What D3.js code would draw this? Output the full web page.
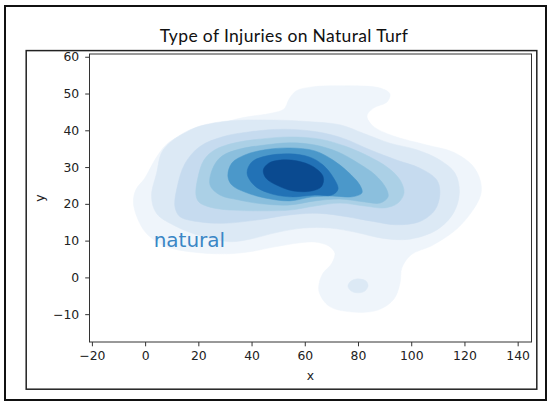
<!DOCTYPE html>
<html lang="en">
<head>
<meta charset="utf-8" />
<title>Type of Injuries on Natural Turf</title>
<style>
  body { margin: 0; padding: 0; background: #fff; }
  svg { display: block; }
  .tick text { font-family: 'DejaVu Sans', sans-serif; font-size: 12.4px; fill: #222; }
  .tick line { stroke: #333; stroke-width: 1; }
</style>
<script src="https://d3js.org/d3.v7.min.js"></script>
</head>
<body>
<div id="chart"></div>
<script>
// density contour outlines, [x, y] in data units, outermost first
const level1 = [[-4.4,20.2],[-3.5,23.8],[-0.1,27.0],[2.6,30.6],[4.8,33.3],[8.2,36.3],[13.8,38.7],[23.6,40.9],
  [36.4,43.4],[47.7,44.7],[52.2,45.8],[54.1,48.5],[56.7,50.7],[62.7,51.8],[73.2,52.1],[88.3,51.5],[92.0,49.9],
  [90.9,47.7],[86.0,46.1],[83.4,43.9],[85.6,41.2],[93.1,38.5],[105.9,36.0],[115.7,34.1],[122.8,30.6],[125.9,26.5],
  [126.2,22.7],[123.2,18.3],[117.2,13.2],[108.2,8.8],[99.9,6.1],[96.5,2.6],[95.8,-1.5],[93.5,-5.9],[87.5,-8.9],
  [77.7,-9.4],[69.1,-7.8],[65.3,-3.7],[66.5,0.7],[70.2,3.9],[71.3,6.6],[69.1,8.5],[63.8,9.6],[58.2,9.4],
  [48.8,8.3],[38.6,6.9],[30.0,6.4],[17.6,6.9],[7.4,8.5],[0.7,11.8],[-2.3,15.1]];
const level2 = [[2.4,22.0],[4.3,28.3],[6.8,34.7],[16.8,40.1],[29.4,42.4],[48.2,42.8],[60.7,42.4],[73.2,41.5],
  [82.0,39.2],[92.0,36.5],[102.1,34.7],[110.8,31.9],[116.5,28.3],[118.1,22.9],[115.8,17.4],[109.6,12.9],
  [99.5,10.4],[89.5,10.6],[79.5,12.2],[69.5,13.4],[59.4,13.4],[49.4,12.2],[39.4,10.4],[31.9,9.7],[21.8,11.1],
  [11.8,13.8],[4.3,17.4]];
const island = [[76.2,-2.3],[77.4,-1.0],[80.0,-0.4],[83.0,-1.0],[83.8,-2.3],[82.6,-3.7],[80.0,-4.2],[77.4,-3.7]];
const level3 = [[11.2,19.2],[12.1,24.7],[15.0,31.0],[20.6,35.6],[29.4,38.3],[39.4,39.6],[51.9,40.3],[64.5,39.6],
  [74.5,37.8],[84.5,34.7],[94.5,31.9],[103.3,29.7],[109.6,26.5],[110.8,22.9],[108.9,18.3],[103.3,15.2],
  [94.5,14.3],[85.7,15.2],[75.7,16.5],[65.7,17.4],[54.4,17.0],[41.9,15.6],[29.4,14.7],[19.4,15.2],[13.1,16.5]];
const level4 = [[19.1,22.4],[19.8,27.0],[22.1,31.9],[26.2,34.7],[33.8,36.6],[43.2,37.6],[54.4,38.2],[65.7,37.6],
  [75.1,35.7],[83.8,33.0],[91.3,29.8],[95.8,26.5],[97.3,23.0],[95.0,20.2],[90.1,18.9],[82.6,19.4],[73.2,20.2],
  [63.8,19.4],[54.4,18.3],[43.2,18.1],[31.9,18.3],[24.4,19.1],[20.2,20.5]];
const level5 = [[24.4,25.1],[25.5,29.8],[28.9,33.0],[35.6,34.9],[45.0,36.0],[54.4,36.6],[63.8,36.0],[72.5,34.1],
  [80.0,31.1],[86.4,27.9],[90.5,24.3],[91.3,21.9],[88.3,20.2],[82.6,20.5],[73.2,21.3],[63.8,20.8],[54.4,19.7],
  [43.9,20.0],[34.9,21.1],[28.1,22.4]];
const level6 = [[31.1,27.6],[32.6,31.1],[37.5,33.3],[45.0,34.7],[54.4,35.2],[63.8,34.4],[70.6,31.9],[76.2,28.7],
  [80.7,25.1],[81.5,23.0],[77.7,21.9],[71.3,22.1],[62.7,21.9],[54.4,20.8],[45.0,21.6],[37.5,23.2],[32.6,25.1]];
const level7 = [[38.3,28.4],[40.1,31.4],[45.4,33.0],[54.4,33.6],[61.9,32.7],[66.8,30.6],[70.6,27.3],[72.5,24.0],
  [70.2,22.4],[63.8,22.4],[54.4,21.9],[46.2,23.0],[40.9,25.1]];
const level8 = [[44.4,29.2],[46.3,31.0],[50.7,31.9],[56.9,31.7],[63.2,30.1],[66.9,27.4],[66.3,24.7],[62.6,23.5],
  [55.7,23.5],[49.4,25.1],[45.4,27.0]];

const levelColors = ["#eff5fb", "#dce9f5", "#c6dbef", "#abd0e6", "#8bbfdd", "#4b98ca", "#2272b6", "#0a4a90"];
const xTicks = [-20, 0, 20, 40, 60, 80, 100, 120, 140];
const yTicks = [-10, 0, 10, 20, 30, 40, 50, 60];
const xDomain = [-20.9, 145.2];
const yDomain = [-17.57, 60.75];
const label = { text: "natural", x: 3.2, y: 8.3 };

const W = 548, H = 401;
const plot = { left: 89.5, top: 54, right: 531.5, bottom: 342 };

const svg = d3.select("#chart").append("svg").attr("width", W).attr("height", H);

// slide border and figure frame
svg.append("rect").attr("x", 5).attr("y", 6).attr("width", 541).attr("height", 394)
  .attr("fill", "none").attr("stroke", "#111").attr("stroke-width", 2);
svg.append("rect").attr("x", 26.2).attr("y", 50.6).attr("width", 510.6).attr("height", 338.6)
  .attr("fill", "none").attr("stroke", "#222").attr("stroke-width", 1.5);

svg.append("text").attr("x", 284).attr("y", 41.5).attr("text-anchor", "middle")
  .style("font-family", "Lato, 'Open Sans', sans-serif").style("font-size", "17.5px")
  .style("letter-spacing", "0.35px").style("fill", "#111")
  .text("Type of Injuries on Natural Turf");

const x = d3.scaleLinear().domain(xDomain).range([plot.left, plot.right]);
const y = d3.scaleLinear().domain(yDomain).range([plot.bottom, plot.top]);

const line = d3.line().x(d => x(d[0])).y(d => y(d[1])).curve(d3.curveCatmullRomClosed.alpha(0.5));

const shapes = [
  { pts: level1, c: levelColors[0] },
  { pts: level2, c: levelColors[1] },
  { pts: island, c: levelColors[1] },
  { pts: level3, c: levelColors[2] },
  { pts: level4, c: levelColors[3] },
  { pts: level5, c: levelColors[4] },
  { pts: level6, c: levelColors[5] },
  { pts: level7, c: levelColors[6] },
  { pts: level8, c: levelColors[7] }
];

svg.append("g").selectAll("path").data(shapes).enter().append("path")
  .attr("d", d => line(d.pts))
  .attr("fill", d => d.c)
  .attr("stroke", d => d.c)
  .attr("stroke-width", 0.5);

svg.append("text").attr("x", x(label.x)).attr("y", y(label.y))
  .style("font-family", "'DejaVu Sans', sans-serif").style("font-size", "20px").style("fill", "#3a86c5")
  .text(label.text);

const fmt = d => d < 0 ? "\u2212" + Math.abs(d) : String(d);

svg.append("g").attr("transform", `translate(0,${plot.bottom})`)
  .call(d3.axisBottom(x).tickValues(xTicks).tickSize(4.3).tickPadding(5).tickFormat(fmt))
  .call(g => g.select(".domain").remove());

svg.append("g").attr("transform", `translate(${plot.left},0)`)
  .call(d3.axisLeft(y).tickValues(yTicks).tickSize(4.3).tickPadding(6).tickFormat(fmt))
  .call(g => g.select(".domain").remove());

// spines
svg.append("rect").attr("x", plot.left).attr("y", plot.top)
  .attr("width", plot.right - plot.left).attr("height", plot.bottom - plot.top)
  .attr("fill", "none").attr("stroke", "#333").attr("stroke-width", 1);

svg.append("text").attr("x", (plot.left + plot.right) / 2).attr("y", 380).attr("text-anchor", "middle")
  .style("font-family", "'DejaVu Sans', sans-serif").style("font-size", "12.4px").style("fill", "#222")
  .text("x");

svg.append("text").attr("transform", `translate(44,${(plot.top + plot.bottom) / 2}) rotate(-90)`)
  .attr("text-anchor", "middle")
  .style("font-family", "'DejaVu Sans', sans-serif").style("font-size", "12.4px").style("fill", "#222")
  .text("y");
</script>
</body>
</html>
